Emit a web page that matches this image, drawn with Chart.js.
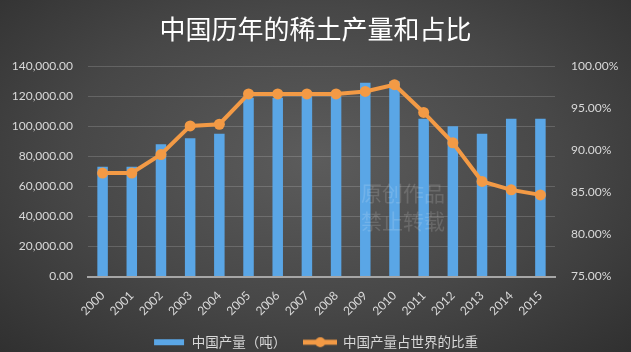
<!DOCTYPE html>
<html>
<head>
<meta charset="utf-8">
<script src="https://cdn.jsdelivr.net/npm/chart.js@4.4.0/dist/chart.umd.min.js"></script>
<style>
  html, body { margin: 0; padding: 0; }
  body {
    width: 631px; height: 352px; overflow: hidden;
    background: radial-gradient(ellipse at 50% 45%, #5c5c5c 0%, #474747 55%, #303030 100%);
  }
  #chart-container { position: relative; width: 631px; height: 352px; }
</style>
</head>
<body>
<div id="chart-container"><canvas id="chart-canvas" width="631" height="352"></canvas></div>
<script>
// Chart data
const years = ['2000', '2001', '2002', '2003', '2004', '2005', '2006', '2007',
  '2008', '2009', '2010', '2011', '2012', '2013', '2014', '2015'];
const production = [73000, 73000, 88000, 92000, 95000, 119000, 119000, 120000,
  120000, 129000, 130000, 105000, 100000, 95000, 105000, 105000];
const worldShare = [87.3, 87.3, 89.5, 92.9, 93.1, 96.7, 96.7, 96.7,
  96.7, 97.0, 97.8, 94.5, 90.9, 86.3, 85.3, 84.7];

const titleText = '中国历年的稀土产量和占比';
const seriesNames = ['中国产量（吨）', '中国产量占世界的比重'];
const watermark = ['原创作品', '禁止转载'];

const barColor = '#5aa6e6';
const lineColor = '#f39a45';
const cjkFont = '"Noto Sans CJK SC", "Noto Sans", sans-serif';
const tickFont = 'Lato, "Open Sans", sans-serif';

// Legend symbols drawn like the spreadsheet ones
function makeSymbol(kind) {
  const c = document.createElement('canvas');
  c.width = 34;
  c.height = 12;
  const g = c.getContext('2d');
  if (kind === 'bar') {
    g.fillStyle = barColor;
    g.fillRect(2, 3, 30, 6);
  } else {
    g.strokeStyle = lineColor;
    g.lineWidth = 5;
    g.beginPath();
    g.moveTo(0, 6);
    g.lineTo(34, 6);
    g.stroke();
    g.fillStyle = lineColor;
    g.beginPath();
    g.arc(17, 6, 5, 0, Math.PI * 2);
    g.fill();
  }
  return c;
}
const legendSymbols = [makeSymbol('bar'), makeSymbol('line')];

// Faint watermark text over the plot
const watermarkPlugin = {
  id: 'watermark',
  afterDatasetsDraw: function(chart) {
    const c = chart.ctx;
    c.save();
    c.fillStyle = 'rgba(255,255,255,0.14)';
    c.font = '21px ' + cjkFont;
    c.textBaseline = 'middle';
    c.fillText(watermark[0], 361, 193);
    c.fillText(watermark[1], 361, 221);
    c.restore();
  }
};

const ctx = document.getElementById('chart-canvas').getContext('2d');

new Chart(ctx, {
  data: {
    labels: years,
    datasets: [
      {
        type: 'bar',
        label: seriesNames[0],
        data: production,
        yAxisID: 'y',
        backgroundColor: barColor,
        barPercentage: 0.36,
        categoryPercentage: 1,
        order: 1
      },
      {
        type: 'line',
        label: seriesNames[1],
        data: worldShare,
        yAxisID: 'y1',
        borderColor: lineColor,
        backgroundColor: lineColor,
        borderWidth: 4,
        pointRadius: 5.5,
        pointBackgroundColor: lineColor,
        pointBorderWidth: 0,
        tension: 0,
        order: 0
      }
    ]
  },
  options: {
    responsive: false,
    animation: false,
    devicePixelRatio: 1,
    layout: { padding: { left: 0, right: 0, top: 0, bottom: -7 } },
    plugins: {
      title: {
        display: true,
        text: titleText,
        color: '#ffffff',
        font: { family: cjkFont, size: 26, weight: 'normal' },
        padding: { top: 14, bottom: 21 }
      },
      legend: {
        position: 'bottom',
        labels: {
          color: '#d9d9d9',
          font: { family: cjkFont, size: 13.5 },
          usePointStyle: true,
          pointStyleWidth: 32,
          padding: 18,
          generateLabels: function(chart) {
            const items = Chart.defaults.plugins.legend.labels.generateLabels(chart);
            items.forEach(item => { item.pointStyle = legendSymbols[item.datasetIndex]; });
            return items.sort((a, b) => a.datasetIndex - b.datasetIndex);
          }
        }
      },
      tooltip: { enabled: false }
    },
    scales: {
      x: {
        grid: { display: false, drawTicks: false },
        border: { color: '#a6a6a6', width: 2 },
        afterFit: function(scale) { scale.height = 41; },
        ticks: {
          color: '#d9d9d9',
          font: { family: tickFont, size: 12 },
          maxRotation: 45,
          minRotation: 45,
          autoSkip: false,
          padding: 12
        }
      },
      y: {
        position: 'left',
        min: 0,
        max: 140000,
        afterFit: function(scale) { scale.width = 88; },
        grid: { color: 'rgba(255,255,255,0.16)', lineWidth: 1, drawTicks: false },
        border: { display: false },
        ticks: {
          stepSize: 20000,
          color: '#d9d9d9',
          font: { family: tickFont, size: 12 },
          padding: 15,
          callback: function(value) {
            return value.toLocaleString('en-US', { minimumFractionDigits: 2, maximumFractionDigits: 2 });
          }
        }
      },
      y1: {
        position: 'right',
        min: 75,
        max: 100,
        afterFit: function(scale) { scale.width = 76; },
        grid: { display: false, drawTicks: false },
        border: { display: false },
        ticks: {
          stepSize: 5,
          color: '#d9d9d9',
          font: { family: tickFont, size: 12 },
          padding: 16,
          callback: function(value) { return value.toFixed(2) + '%'; }
        }
      }
    }
  },
  plugins: [watermarkPlugin]
});
</script>
</body>
</html>
